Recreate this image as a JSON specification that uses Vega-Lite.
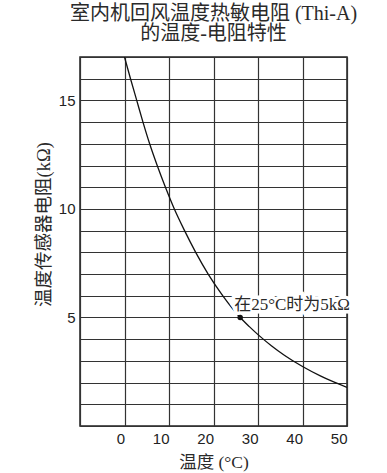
{
  "$schema": "https://vega.github.io/schema/vega-lite/v6.json",
  "width": 267,
  "height": 369,
  "autosize": {"type": "none"},
  "padding": {"left": 80, "top": 57, "right": 40, "bottom": 47},
  "background": "white",
  "config": {
    "view": {"stroke": "#222", "strokeWidth": 1.5},
    "font": "Liberation Serif, Noto Sans CJK SC"
  },
  "title": {
    "text": ["室内机回风温度热敏电阻  (Thi-A)", "的温度-电阻特性"],
    "font": "Liberation Serif, Noto Sans CJK SC",
    "fontSize": 20,
    "fontWeight": "normal",
    "lineHeight": 20,
    "color": "#2a2a2a",
    "anchor": "middle",
    "offset": 13
  },
  "datasets": {
    "curve": [
      {"T": 0, "R": 17},
      {"T": 1.35, "R": 16},
      {"T": 2.75, "R": 15},
      {"T": 4.15, "R": 14},
      {"T": 5.65, "R": 13},
      {"T": 7.35, "R": 12},
      {"T": 9.2, "R": 11},
      {"T": 11.2, "R": 10},
      {"T": 13.5, "R": 9},
      {"T": 16.0, "R": 8},
      {"T": 18.8, "R": 7},
      {"T": 22.1, "R": 6},
      {"T": 26, "R": 5},
      {"T": 28, "R": 4.59},
      {"T": 30, "R": 4.21},
      {"T": 33, "R": 3.7},
      {"T": 36, "R": 3.25},
      {"T": 40, "R": 2.74},
      {"T": 44, "R": 2.31},
      {"T": 47, "R": 2.03},
      {"T": 50, "R": 1.78}
    ],
    "note": [
      {"T": 26, "R": 5, "label": "在25°C时为5kΩ"}
    ]
  },
  "data": {"name": "curve"},
  "encoding": {
    "x": {
      "field": "T",
      "type": "quantitative",
      "scale": {"domain": [-10, 50], "nice": false, "zero": false},
      "axis": {
        "title": "温度 (°C)",
        "titleFont": "Liberation Serif, Noto Sans CJK SC",
        "titleFontSize": 17.5,
        "titleFontWeight": "normal",
        "titleColor": "#2a2a2a",
        "titleBaseline": "middle",
        "titleY": 36,
        "values": [-10, 0, 10, 20, 30, 40, 50],
        "labelExpr": "datum.value < 0 ? '' : datum.label",
        "labelFont": "Liberation Sans",
        "labelFontSize": 15,
        "labelColor": "#222",
        "labelAlign": "right",
        "labelPadding": 5,
        "ticks": false,
        "domain": false,
        "grid": true,
        "gridColor": "#333",
        "gridWidth": 1.2,
        "gridOpacity": 1
      }
    },
    "y": {
      "field": "R",
      "type": "quantitative",
      "scale": {"domain": [0, 17], "nice": false, "zero": false},
      "axis": {
        "title": "温度传感器电阻(kΩ)",
        "titleFont": "Liberation Serif, Noto Sans CJK SC",
        "titleFontSize": 18.5,
        "titleFontWeight": "normal",
        "titleColor": "#2a2a2a",
        "titleAngle": 270,
        "titleAlign": "center",
        "titleBaseline": "middle",
        "titleX": -37,
        "titleY": 167,
        "values": [0, 1, 2, 3, 4, 5, 6, 7, 8, 9, 10, 11, 12, 13, 14, 15, 16, 17],
        "labelExpr": "(datum.value % 5 === 0 && datum.value > 0) ? datum.label : ''",
        "labelFont": "Liberation Sans",
        "labelFontSize": 15,
        "labelColor": "#222",
        "labelPadding": 5,
        "ticks": false,
        "domain": false,
        "grid": true,
        "gridColor": "#333",
        "gridWidth": 1.2,
        "gridOpacity": 1
      }
    }
  },
  "layer": [
    {
      "mark": {"type": "line", "color": "#111", "strokeWidth": 1.3, "interpolate": "monotone", "clip": true}
    },
    {
      "data": {"name": "note"},
      "mark": {"type": "text", "align": "left", "baseline": "middle", "dx": -6, "dy": -12, "fontSize": 17, "font": "Liberation Serif, Noto Sans CJK SC", "stroke": "white", "strokeWidth": 7, "fill": "white"},
      "encoding": {"text": {"field": "label"}}
    },
    {
      "data": {"name": "note"},
      "mark": {"type": "text", "align": "left", "baseline": "middle", "dx": -6, "dy": -12, "fontSize": 17, "font": "Liberation Serif, Noto Sans CJK SC", "color": "#2a2a2a"},
      "encoding": {"text": {"field": "label"}}
    },
    {
      "data": {"name": "note"},
      "mark": {"type": "point", "filled": true, "color": "#111", "size": 30, "opacity": 1}
    }
  ]
}
